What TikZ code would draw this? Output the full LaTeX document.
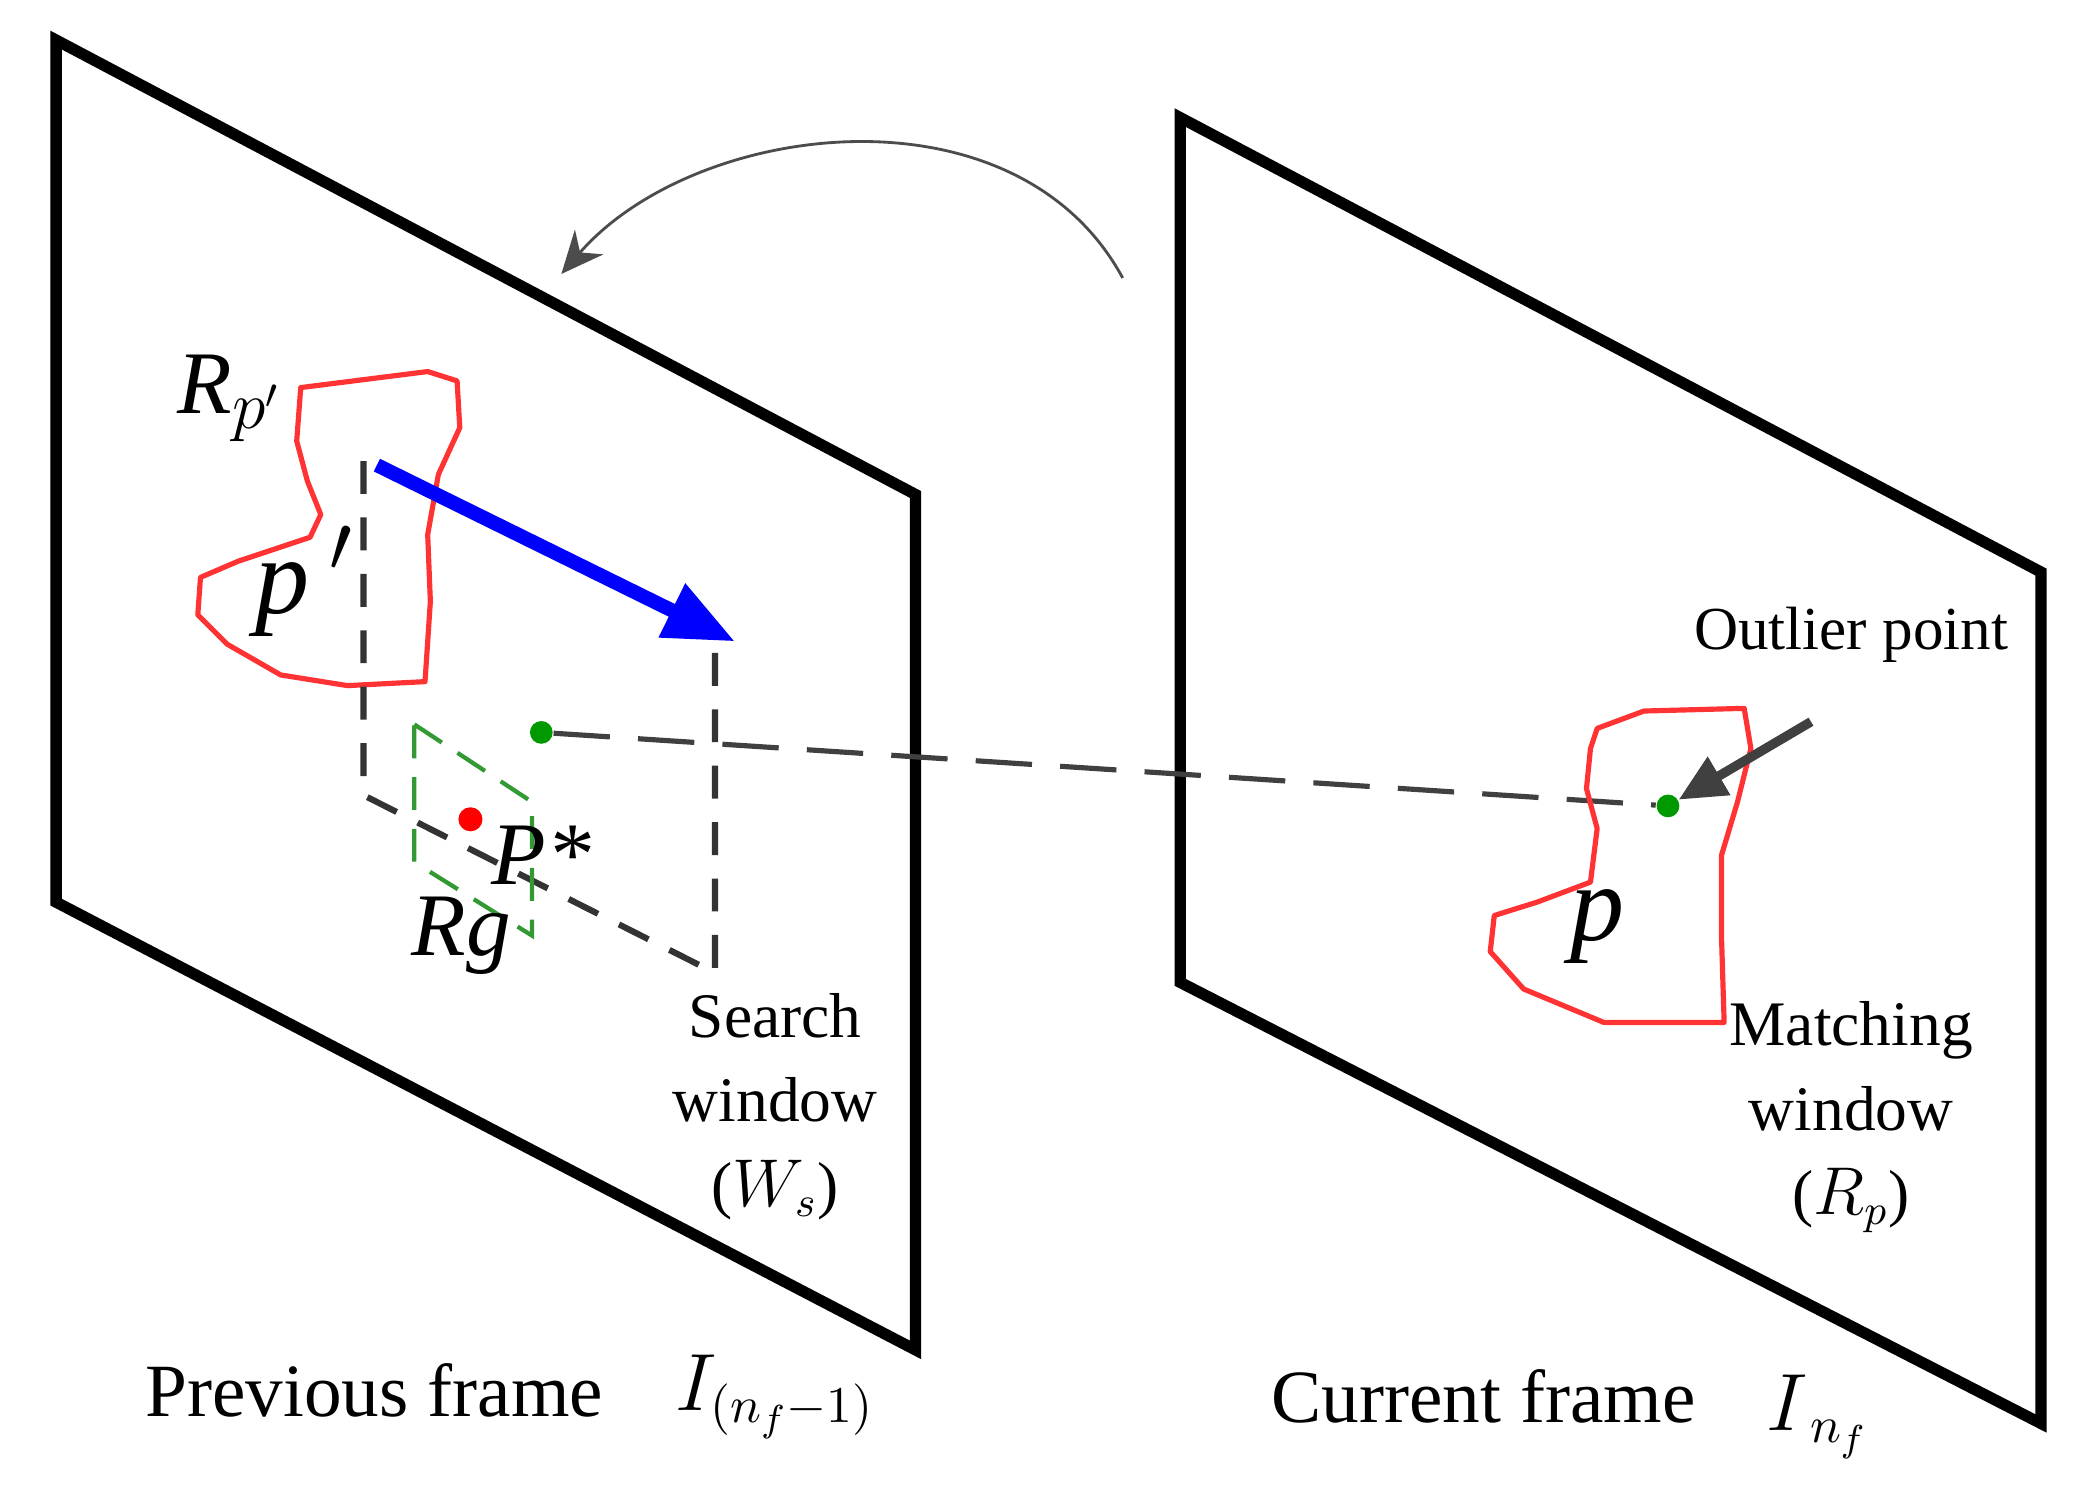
\documentclass[tikz,border=0pt]{standalone}
\usepackage{fontspec}
\setmainfont{Liberation Serif}
\usetikzlibrary{arrows.meta}
\begin{document}
\begin{tikzpicture}[x=0.01cm,y=-0.01cm,
  frame/.style={line width=2.4pt,line join=miter},
  contour/.style={red!80!white,line width=1.1pt,line join=round},
  win/.style={black!80,line width=1.3pt,dash pattern=on 7pt off 5pt},
  lbl/.style={font=\fontsize{13.5}{15}\selectfont,align=center},
  big/.style={font=\fontsize{16}{18}\selectfont},
  dot/.style={circle,fill=green!60!black,inner sep=0pt,minimum size=0.17cm}]
\useasboundingbox (0,0) rectangle (1560,1131);
% frames
\draw[frame] (42,30) -- (685,370) -- (685,1010) -- (42,675) -- cycle;
\draw[frame] (883,88) -- (1527,428) -- (1527,1065) -- (883,735) -- cycle;
% arc arrow
\coordinate (as) at (840,208); \coordinate (ae) at (420,205);
\draw[black!70,line width=0.6pt,-{Stealth[length=9pt,width=8pt]}] (as) .. controls (760,60) and (520,90) .. (ae);
% left contour
\draw[contour] (225,290) -- (320,278) -- (342,285) -- (344,320) -- (328,355) -- (320,400) -- (322,450) -- (318,510) -- (260,513) -- (210,505) -- (170,482) -- (148,460) -- (150,432) -- (178,420) -- (232,402) -- (240,385) -- (230,360) -- (222,330) -- cycle;
\node[font=\fontsize{19}{21}\selectfont\itshape] (rp) at (172,298) {R$_{p'}$};
\node[font=\fontsize{23}{25}\selectfont\itshape] (pp) at (228,435) {p$\,'$};
% search window
\coordinate (w1) at (272,345); \coordinate (w2) at (272,595);
\coordinate (w3) at (535,728); \coordinate (w4) at (535,482);
\draw[win] (w1) -- (w2) -- (w3) -- (w4);
\draw[blue,line width=3pt,-{Triangle[length=15pt,width=12pt]}] (282,348) -- (550,480);
% Rg window
\draw[green!50!black!80,line width=0.9pt,dash pattern=on 7pt off 4pt] (310,542) -- (398,600) -- (398,700) -- (310,645) -- cycle;
\fill[red] (352,613) circle (9);
\node[font=\fontsize{19}{21}\selectfont\itshape] (ps) at (405,640) {P*};
\node[font=\fontsize{19}{21}\selectfont\itshape] (rg) at (345,700) {Rg};
% correspondence
\node[dot] (g1) at (405,548) {};
\node[dot] (g2) at (1248,603) {};
\draw[black!75,line width=1.1pt,dash pattern=on 12pt off 6pt] (g1) -- (g2);
% right contour
\draw[contour] (1195,545) -- (1230,532) -- (1305,530) -- (1310,560) -- (1300,600) -- (1288,640) -- (1288,700) -- (1290,765) -- (1200,765) -- (1140,740) -- (1115,712) -- (1118,685) -- (1150,675) -- (1190,660) -- (1195,620) -- (1187,590) -- (1190,560) -- cycle;
\node[font=\fontsize{23}{25}\selectfont\itshape] (p) at (1195,693) {p};
\node[font=\fontsize{13}{15}\selectfont] (op) at (1385,475) {Outlier point};
\coordinate (oa) at (1355,540);
\draw[black!75,line width=2pt,-{Triangle[length=10pt,width=9pt]}] (oa) -- (g2);
% text
\node[lbl] (sw) at (580,828) {Search\\[3pt]window\\[3pt]($W_s$)};
\node[lbl] (mw) at (1385,836) {Matching\\[3pt]window\\[3pt]($R_p$)};
\node[big] (pf) at (280,1040) {Previous frame};
\node[big] (pi) at (580,1045) {$I_{(n_f-1)}$};
\node[big] (cf) at (1110,1045) {Current frame};
\node[big] (ci) at (1360,1060) {$I_{\,n_f}$};
\end{tikzpicture}
\end{document}
